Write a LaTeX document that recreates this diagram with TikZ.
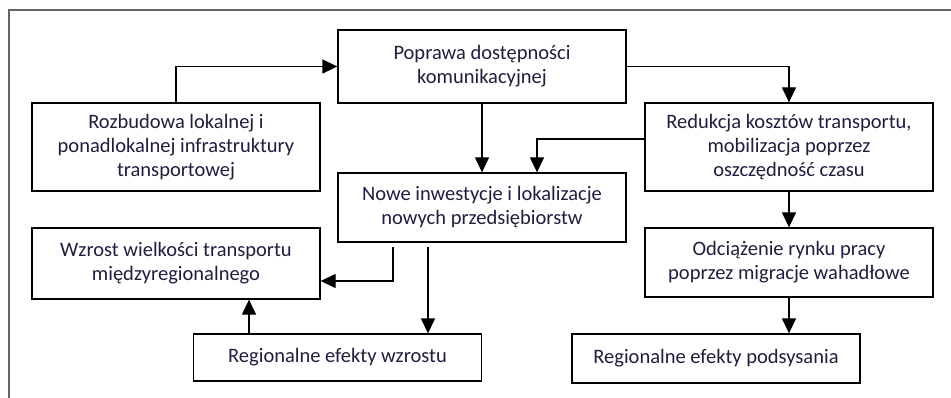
\documentclass[tikz,border=0pt]{standalone}
\usepackage{fontspec}
\setmainfont{Carlito}
\usepackage{tikz}
\usetikzlibrary{arrows.meta}
\definecolor{txtnavy}{RGB}{30,30,62}

\begin{document}
\begin{tikzpicture}[x=1pt, y=-1pt, line width=1.3pt, >={Triangle[length=15pt, width=14pt]},
	box/.style={draw, minimum width=288pt, align=center, inner sep=2pt, text=txtnavy, font=\fontsize{20.5}{24}\selectfont}]
	\useasboundingbox (0,0) rectangle (951,398);
	\draw[gray!80!black] (951,10) -- (9,10) -- (9,398);
	\node[box, minimum height=73pt] (popr) at (482,66.5) {Poprawa dostępności\\komunikacyjnej};
	\node[box, minimum height=88pt] (rozb) at (176,147) {Rozbudowa lokalnej i\\ponadlokalnej infrastruktury\\transportowej};
	\node[box, minimum height=88pt] (redk) at (789,147) {Redukcja kosztów transportu,\\mobilizacja poprzez\\oszczędność czasu};
	\node[box, minimum height=69pt] (nowe) at (482,207.5) {Nowe inwestycje i lokalizacje\\nowych przedsiębiorstw};
	\node[box, minimum height=71pt] (wzrt) at (176,263.5) {Wzrost wielkości transportu\\międzyregionalnego};
	\node[box, minimum height=69pt] (odcz) at (789,262.5) {Odciążenie rynku pracy\\poprzez migracje wahadłowe};
	\node[box, minimum height=47pt] (efwz) at (337.5,357.5) {Regionalne efekty wzrostu};
	\node[box, minimum height=49pt] (efpd) at (716,358.5) {Regionalne efekty podsysania};
	\draw[->] (rozb.north) |- (popr.west);
	\draw[->] (popr.east) -| (redk.north);
	\draw[->] (popr.south) -- (nowe.north);
	\draw[->] ([yshift=8pt]redk.west) -| ([xshift=55pt]nowe.north);
	\draw[->] (redk.south) -- (odcz.north);
	\draw[->] (odcz.south) -- (odcz.south |- efpd.north);
	\draw[->] ([xshift=-89pt, yshift=-4pt]nowe.south) |- ([yshift=-17.5pt]wzrt.east);
	\draw[->] ([xshift=-54pt, yshift=-4pt]nowe.south) -- ([xshift=-54pt]nowe.south |- efwz.north);
	\draw[->] ([xshift=-88.5pt]efwz.north) -- ([xshift=-88.5pt]efwz.north |- wzrt.south);
\end{tikzpicture}
\end{document}
